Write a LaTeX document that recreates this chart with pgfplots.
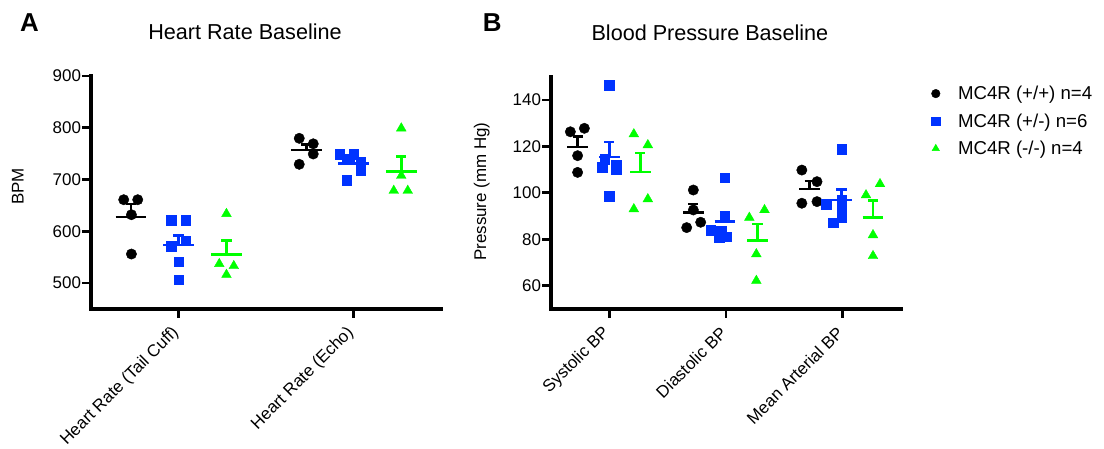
\documentclass[border=0pt]{standalone}
\usepackage{fontspec}
\setmainfont{Liberation Sans}
\usepackage{pgfplots}
\pgfplotsset{compat=1.18}
\definecolor{gblue}{RGB}{0,51,255}
\definecolor{ggreen}{RGB}{0,255,0}
\pgfplotsset{
  prism/.style={
    scale only axis,
    axis x line*=bottom, axis y line*=left,
    axis line style={-, line width=3.5bp, line cap=rect, black},
    tick align=outside, major tick length=9bp,
    tick style={line width=2.8bp, black},
    xtick pos=bottom, ytick pos=left,
    minor tick num=0,
    /pgf/number format/assume math mode=true,
    yticklabel style={font=\fontsize{17}{20}\selectfont, xshift=2.5bp},
    xticklabel style={font=\fontsize{17}{20}\selectfont, rotate=45, anchor=east},
    xticklabel shift=10bp,
    title style={font=\fontsize{21.7}{26}\selectfont, anchor=base},
    clip=false,
    unbounded coords=jump,
  },
  dotA/.style={only marks, mark=*, mark size=5.2bp, black},
  sqA/.style={only marks, mark=square*, mark size=4.8bp, gblue},
  trA/.style={only marks, mark=triangle*, mark size=5.6bp, ggreen},
  ml/.style={line width=2.5bp, #1, mark=none, forget plot},
}
\begin{document}
\begin{tikzpicture}
\useasboundingbox (0,0) rectangle (1104bp,-449bp);
\node[anchor=base west, inner sep=0, font=\fontsize{26}{30}\selectfont\bfseries] at (20bp,-31.7bp) {A};
\node[anchor=base west, inner sep=0, font=\fontsize{26}{30}\selectfont\bfseries] at (482.7bp,-31.7bp) {B};
% Panel A
\begin{axis}[prism,
  at={(91bp,-308.9bp)}, anchor=south west,
  width=350bp, height=232.9bp,
  xmin=0.5, xmax=2.5, ymin=450, ymax=900,
  xtick={1,2}, xticklabels={Heart Rate (Tail Cuff), Heart Rate (Echo)},
  ytick={500,600,700,800,900},
  ylabel={BPM},
  every axis y label/.style={at={(axis description cs:-0.2094,0.526)}, rotate=90, anchor=center, font=\fontsize{17}{20}\selectfont},
  title={Heart Rate Baseline},
  title style={at={(axis description cs:0.44,1.133)}},
]
\addplot[dotA] coordinates {(0.687,661) (0.767,661) (0.731,632) (0.731,556) (1.69,779.6) (1.77,769) (1.77,749.3) (1.69,729.4)};
\addplot[sqA] coordinates {(0.958,621.4) (1.042,621.4) (0.958,571) (1.042,581.5) (1.0,541.5) (1.0,506.8) (1.92,749) (2.0,749) (1.96,740) (2.04,733) (2.04,718) (1.96,699)};
\addplot[trA] coordinates {(1.274,633.7) (1.233,537) (1.316,533) (1.274,516) (2.273,799) (2.273,707.4) (2.23,678.4) (2.31,678.4)};
% mean and SEM
\addplot[ml=black] coordinates {
  (0.641,627.5) (0.817,627.5) (0.729,nan) (0.729,627.5) (0.729,652.3) (0.7,nan) (0.7,652.3) (0.758,652.3) (1,nan)
  (1.642,756.8) (1.818,756.8) (1.73,nan) (1.73,756.8) (1.73,767.9) (1.7,nan) (1.701,767.9) (1.759,767.9)};
\addplot[ml=gblue] coordinates {
  (0.912,573.7) (1.088,573.7) (1,nan) (1,573.7) (1,592) (1,nan) (0.971,592) (1.029,592) (1.5,nan)
  (1.912,731.3) (2.088,731.3) (2,nan) (2,731.3) (2,739.3) (2,nan) (1.971,739.3) (2.029,739.3)};
\addplot[ml=ggreen] coordinates {
  (1.186,555) (1.362,555) (1.3,nan) (1.274,555) (1.274,581.7) (1.3,nan) (1.245,581.7) (1.303,581.7) (1.5,nan)
  (2.185,715.7) (2.361,715.7) (2.3,nan) (2.273,715.7) (2.273,744.4) (2.3,nan) (2.244,744.4) (2.302,744.4)};
\end{axis}
% Panel B
\begin{axis}[prism,
  at={(551bp,-308.8bp)}, anchor=south west,
  width=350bp, height=232bp,
  xmin=0.5, xmax=3.5, ymin=50, ymax=150,
  xtick={1,2,3}, xticklabels={Systolic BP, Diastolic BP, Mean Arterial BP},
  ytick={60,80,100,120,140},
  ylabel={Pressure (mm Hg)},
  every axis y label/.style={at={(axis description cs:-0.198,0.505)}, rotate=90, anchor=center, font=\fontsize{17}{20}\selectfont},
  title={Blood Pressure Baseline},
  title style={at={(axis description cs:0.454,1.1328)}},
  legend style={at={(axis description cs:1.078,0.978)}, anchor=north west, draw=none, fill=none,
    font=\fontsize{18.7}{22}\selectfont, row sep=8.5bp,
    /tikz/every odd column/.append style={column sep=16bp}},
  legend image post style={mark size=4.3bp},
  legend cell align=left,
]
\addplot[dotA] coordinates {(0.666,126.3) (0.786,127.8) (0.728,116) (0.728,108.8) (1.72,101.2) (1.72,92.6) (1.663,85) (1.783,87.3) (2.65,109.8) (2.78,104.8) (2.65,95.5) (2.78,96.2)};
\addplot[sqA] coordinates {(1.0,146.5) (0.96,114.5) (0.94,111) (1.06,112) (1.06,110) (1.0,98.6) (1.99,106.5) (1.99,89.7) (1.87,84) (1.96,83.5) (1.94,80.7) (2.0,81) (2.99,118.9) (2.86,95.2) (2.99,96.9) (2.99,93.7) (2.99,89.3) (2.92,87.1)};
\addplot[trA] coordinates {(1.21,125.3) (1.33,120.6) (1.21,93) (1.33,97.3) (2.2,89.3) (2.33,92.6) (2.26,73.6) (2.26,62.1) (3.32,103.8) (3.2,99) (3.26,81.8) (3.26,72.8)};
\legend{MC4R (+/+) n=4, MC4R (+/-) n=6, MC4R (-/-) n=4}
\addplot[ml=black] coordinates {
  (0.64,119.7) (0.816,119.7) (0.7,nan) (0.728,119.7) (0.728,124.2) (0.7,nan) (0.685,124.2) (0.771,124.2) (1,nan)
  (1.632,91.5) (1.808,91.5) (1.7,nan) (1.72,91.5) (1.72,95.1) (1.7,nan) (1.677,95.1) (1.763,95.1) (2,nan)
  (2.629,101.6) (2.805,101.6) (2.7,nan) (2.717,101.6) (2.717,105.1) (2.7,nan) (2.674,105.1) (2.76,105.1)};
\addplot[ml=gblue] coordinates {
  (0.912,115.4) (1.088,115.4) (1,nan) (1,115.4) (1,122) (1,nan) (0.957,122) (1.043,122) (1.5,nan)
  (1.902,87.6) (2.078,87.6) (2,nan) (1.99,87.6) (1.99,91.6) (2,nan) (1.947,91.6) (2.033,91.6) (2.5,nan)
  (2.902,96.85) (3.078,96.85) (3,nan) (2.99,96.85) (2.99,101.5) (3,nan) (2.947,101.5) (3.033,101.5)};
\addplot[ml=ggreen] coordinates {
  (1.178,109.05) (1.354,109.05) (1.3,nan) (1.266,109.05) (1.266,117.2) (1.3,nan) (1.223,117.2) (1.309,117.2) (1.5,nan)
  (2.182,79.4) (2.358,79.4) (2.3,nan) (2.27,79.4) (2.27,86.5) (2.3,nan) (2.227,86.5) (2.313,86.5) (2.5,nan)
  (3.172,89.35) (3.348,89.35) (3.3,nan) (3.26,89.35) (3.26,96.6) (3.3,nan) (3.217,96.6) (3.303,96.6)};
\end{axis}
\end{tikzpicture}
\end{document}
